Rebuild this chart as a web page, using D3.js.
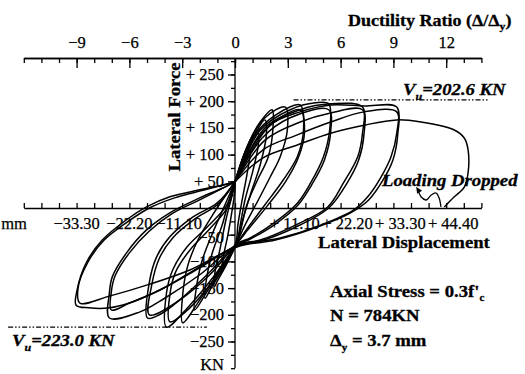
<!DOCTYPE html>
<html><head><meta charset="utf-8">
<script src="https://cdn.jsdelivr.net/npm/d3@7"></script>
<style>
body{margin:0;background:#fff}
svg{display:block}
text{font-family:"Liberation Serif","Times New Roman",serif;fill:#000}
</style>
</head><body><svg id="c" width="525" height="374"></svg>
<script>
// ---------- data ----------
const ductilityTicks = [-9,-6,-3,0,3,6,9,12];
const ductilityMinor = d3.range(-12,15);
const dispLabels = [-33.30,-22.20,-11.10,11.10,22.20,33.30,44.40];
const forceLabels = [250,200,150,100,50,-50,-100,-150,-200,-250];
const forceMinor = d3.range(-300,300,25);
const VuPos = 202.6, VuNeg = -223.0;
const deltaY = 3.7; // mm

// hysteresis cycles: [displacement mm, force kN]
const cycle1 = [[0,49],[1.5,81],[3.2,109],[2.5,62],[1.5,15],[0.6,-32],[0.2,-64],[-1.5,-94],[-2.7,-120],[-2.5,-94],[-1.5,-51],[-0.6,-4],[0,34],[0,49]];
const cycle2 = [[0,49],[2.1,94],[3.8,127],[4.9,140],[4.9,118],[3.8,71],[2.1,15],[1.1,-32],[0.4,-64],[-1.5,-101],[-3.6,-135],[-4.4,-148],[-4.2,-120],[-3.2,-79],[-1.9,-22],[-0.6,24],[0,49]];
const cycle3 = [[0,49],[2.1,105],[4.4,142],[6.3,165],[6.6,137],[5.3,81],[3.2,24],[1.5,-26],[0.4,-64],[-2.1,-107],[-4.9,-148],[-6.3,-169],[-6.1,-139],[-4.9,-88],[-2.7,-32],[-1.1,19],[0,49]];
const cycle4 = [[0,49],[2.7,118],[5.3,161],[7.8,184],[8.0,152],[7.0,96],[4.7,52],[2.5,6],[0.6,-60],[-2.1,-107],[-5.9,-157],[-8.5,-191],[-8.2,-154],[-7.0,-101],[-4.9,-51],[-2.1,6],[0,49]];
const cycle5 = [[0,49],[3.2,127],[6.3,169],[10.6,189],[11.0,146],[9.5,96],[7.4,58],[4.9,15],[2.1,-32],[0.4,-64],[-3.2,-116],[-7.4,-172],[-11.0,-215],[-11.0,-163],[-9.9,-107],[-7.8,-60],[-4.7,-13],[-1.5,30],[0,49]];
const cycle6 = [[0,49],[4.2,137],[8.5,174],[13.7,193],[14.4,146],[13.1,96],[10.1,52],[6.3,6],[2.7,-37],[0.4,-66],[-4.2,-125],[-9.5,-182],[-14.4,-223],[-14.4,-159],[-13.1,-116],[-10.1,-73],[-5.9,-36],[-1.7,6],[0,49]];
const cycle6b = [[0,49],[4.9,131],[9.5,169],[13.7,184],[14.6,142],[13.3,94],[10.6,49],[6.8,4],[2.7,-41],[0.4,-67],[-4.2,-131],[-9.5,-187],[-13.7,-213],[-13.7,-163],[-12.5,-120],[-9.5,-79],[-5.3,-39],[-1.5,2],[0,49]];
const cycle7 = [[0,49],[5.3,146],[11.6,184],[16.9,197],[19.7,195],[19.9,146],[18.6,96],[15.9,47],[13.1,9],[8.5,-26],[3.2,-56],[0.4,-67],[-5.3,-120],[-11.6,-172],[-15.9,-200],[-18.4,-206],[-18.0,-139],[-16.5,-92],[-13.7,-54],[-8.9,-17],[-3.8,9],[0,49]];
const cycle7b = [[0,49],[5.7,131],[11.6,169],[19.7,184],[20.1,142],[18.8,90],[16.1,43],[13.3,6],[8.5,-30],[3.2,-58],[0.4,-69],[-5.3,-125],[-11.6,-172],[-18.0,-200],[-17.5,-144],[-15.9,-94],[-13.1,-56],[-8.5,-21],[-3.6,7],[0,49]];
const cycle8 = [[0,49],[6.3,150],[13.7,184],[20.1,195],[26.8,189],[26.8,140],[25.8,96],[22.8,47],[19.5,2],[12.7,-32],[5.3,-60],[0.4,-69],[-7.4,-125],[-14.8,-169],[-20.1,-195],[-26.4,-206],[-26.4,-159],[-25.8,-129],[-22.8,-84],[-18.6,-41],[-13.7,-9],[-7.4,19],[-2.7,37],[0,49]];
const cycle8b = [[0,49],[6.3,127],[13.7,161],[20.1,178],[26.8,184],[27.1,137],[26.0,90],[23.3,43],[19.7,0],[12.7,-36],[5.3,-62],[0.4,-71],[-8.5,-116],[-15.9,-154],[-22.2,-178],[-26.0,-191],[-26.0,-157],[-25.2,-127],[-22.2,-84],[-18.0,-43],[-13.3,-11],[-7.0,17],[0,49]];
const cycle9 = [[0,49],[7.4,155],[13.7,180],[20.1,193],[27.1,191],[34.0,189],[34.0,140],[32.8,96],[30.7,58],[27.9,21],[24.9,-4],[18.0,-32],[9.5,-56],[0.4,-71],[-7.4,-112],[-15.9,-154],[-22.2,-178],[-26.4,-187],[-30.7,-187],[-33.4,-182],[-33.2,-154],[-31.3,-103],[-27.9,-60],[-22.8,-22],[-18.6,2],[-13.7,21],[-7.4,34],[-0.4,47]];
const cycle9b = [[0,49],[5.9,109],[13.1,137],[20.1,161],[27.1,180],[34.0,180],[34.2,137],[33.2,90],[31.1,52],[28.1,15],[24.3,-9],[16.9,-37],[8.5,-60],[0.4,-73],[-9.5,-116],[-18.4,-144],[-26.4,-165],[-32.6,-178],[-33.0,-150],[-30.9,-101],[-27.5,-60],[-22.6,-26],[-18.0,0],[-12.7,19],[-6.3,34],[0,49]];
const finalRun = [[0,49],[5.9,94],[13.1,118],[20.1,140],[27.1,155],[34.0,165],[39.1,161],[46.1,146],[48.2,131],[49.0,109],[49.0,66],[48.2,39],[46.1,21],[44.0,2]];
const droppedArrow = [[38.5,34],[39.1,21],[40.2,15],[41.2,24],[42.3,28],[42.9,19],[43.3,2]];

const cycles = [cycle1,cycle2,cycle3,cycle4,cycle5,cycle6,cycle6b,cycle7,cycle7b,cycle8,cycle8b,cycle9,cycle9b,finalRun];

// ---------- scales ----------
const svg = d3.select("#c");
const x  = d3.scaleLinear().domain([-12*deltaY,14*deltaY]).range([23.8,481.4]);
const xd = d3.scaleLinear().domain([-12,14]).range([23.8,481.4]);
const y  = d3.scaleLinear().domain([-300,300]).range([368.2,47.8]);
const topY = 58;
const fmtSigned = d => (d<0 ? "\u2212"+Math.abs(d) : String(d));
const TICKFS = 16.5;

// ---------- top (ductility) axis ----------
const gTop = svg.append("g").attr("transform",`translate(0,${topY})`);
gTop.call(d3.axisTop(xd).tickValues(ductilityMinor).tickSizeInner(-5).tickSizeOuter(0).tickFormat(""));
gTop.call(g=>g.append("g").call(d3.axisTop(xd).tickValues(ductilityTicks).tickSizeInner(-10).tickSizeOuter(0).tickPadding(10).tickFormat(fmtSigned)));
gTop.selectAll(".domain").attr("stroke-width",1.5);
gTop.selectAll("line").attr("stroke-width",1.3);
gTop.selectAll("text").attr("font-size",TICKFS).attr("font-family","Liberation Serif").attr("fill","#000")
  .attr("stroke","#000").attr("stroke-width",0.25);

// ---------- bottom (displacement) axis ----------
const gBot = svg.append("g").attr("transform",`translate(0,${y(0)})`);
gBot.call(d3.axisBottom(x).tickValues(ductilityMinor.map(d=>d*deltaY)).tickSizeInner(-5).tickSizeOuter(0).tickFormat(""));
gBot.selectAll(".domain").attr("stroke-width",1.5);
gBot.selectAll("line").attr("stroke-width",1.3);
gBot.selectAll(".lab").data(dispLabels).join("text")
  .attr("x",d=>d<0?x(d)-(d>-12?3:0):x(d)+7).attr("y",21).attr("text-anchor","middle")
  .attr("font-size",TICKFS).attr("stroke","#000").attr("stroke-width",0.25)
  .text(d=>(d<0?"\u2212"+Math.abs(d).toFixed(2):"+ "+d.toFixed(2)));
gBot.append("text").attr("x",14).attr("y",21).attr("font-size",TICKFS).attr("stroke","#000").attr("stroke-width",0.25).text("mm");

// ---------- y (force) axis ----------
const gY = svg.append("g").attr("transform",`translate(${x(0)},0)`);
gY.call(d3.axisLeft(y).tickValues(forceMinor).tickSizeInner(4).tickSizeOuter(0).tickFormat(""));
gY.call(g=>g.append("g").call(d3.axisLeft(y).tickValues(forceLabels).tickSizeInner(7).tickSizeOuter(0).tickFormat("")));
gY.selectAll(".domain").remove();
gY.append("line").attr("x1",0).attr("x2",0).attr("y1",topY).attr("y2",y(-300)).attr("stroke","#000").attr("stroke-width",1.5);
gY.selectAll("line").attr("stroke-width",1.3);
gY.selectAll(".lab").data(forceLabels).join("text")
  .attr("x",-11).attr("y",d=>y(d)+(d===-50?8:5.5)).attr("text-anchor","end").attr("font-size",TICKFS)
  .attr("stroke","#000").attr("stroke-width",0.25)
  .text(d=>d>0?"+ "+d:fmtSigned(d));
gY.append("text").attr("x",-11).attr("y",y(-300)+2).attr("text-anchor","end").attr("font-size",TICKFS)
  .attr("stroke","#000").attr("stroke-width",0.25).text("KN");

// ---------- V_u lines ----------
svg.append("line").attr("x1",x(12.3)).attr("x2",x(53.5)).attr("y1",y(VuPos)).attr("y2",y(VuPos))
  .attr("stroke","#000").attr("stroke-width",1.3).attr("stroke-dasharray","5,2,1.5,2,1.5,2");
svg.append("line").attr("x1",x(-47.7)).attr("x2",x(-5.9)).attr("y1",y(VuNeg)).attr("y2",y(VuNeg))
  .attr("stroke","#000").attr("stroke-width",1.3).attr("stroke-dasharray","5,2,1.5,2,1.5,2");

// ---------- hysteresis curves ----------
const line = d3.line().x(d=>x(d[0])).y(d=>y(d[1])).curve(d3.curveCatmullRom.alpha(0.5));
svg.append("g").selectAll("path").data(cycles).join("path")
  .attr("d",line).attr("fill","none").attr("stroke","#000").attr("stroke-width",1.5).attr("stroke-linejoin","round");

// loading dropped arrow
svg.append("path").attr("d",line(droppedArrow)).attr("fill","none").attr("stroke","#000").attr("stroke-width",1.3);
const a0 = droppedArrow[0];
svg.append("path")
  .attr("d",`M${x(a0[0])-2},${y(a0[1])-3}L${x(a0[0])+4},${y(a0[1])+1}L${x(a0[0])-1},${y(a0[1])+4}Z`)
  .attr("fill","#000");

// ---------- titles & annotations ----------
function boldText(px,py,sx,opts={}){
  const t = svg.append("text")
    .attr("transform",`translate(${px},${py}) ${opts.rot?`rotate(${opts.rot})`:""} scale(${sx},1)`)
    .attr("font-size",opts.fs||17).attr("font-weight","bold")
    .attr("stroke","#000").attr("stroke-width",0.3);
  if(opts.italic) t.attr("font-style","italic");
  if(opts.anchor) t.attr("text-anchor",opts.anchor);
  return t;
}
const t1 = boldText(348,26,1.06);
t1.append("tspan").text("Ductility Ratio  (Δ/Δ");
t1.append("tspan").attr("font-size",11).attr("dy",4).text("y");
t1.append("tspan").attr("dy",-4).text(")");

boldText(180,117,1.1,{rot:-90,anchor:"middle"}).text("Lateral Force");
boldText(318,248,1.1).text("Lateral Displacement");

function vu(xp,yp,val){
  const t = boldText(xp,yp,1.1,{italic:true});
  t.append("tspan").text("V");
  t.append("tspan").attr("font-size",11).attr("dy",5).text("u");
  t.append("tspan").attr("dy",-5).text("="+val.toFixed(1)+" KN");
}
vu(403,95,VuPos);
vu(12,346,Math.abs(VuNeg));

boldText(382,186,1.1,{italic:true}).text("Loading Dropped");

const a1 = boldText(330,297,1.1);
a1.append("tspan").text("Axial Stress = 0.3f'");
a1.append("tspan").attr("font-size",10).attr("dy",4).text("c");
boldText(330,321,1.1).text("N = 784KN");
const a3 = boldText(330,346,1.1);
a3.append("tspan").text("Δ");
a3.append("tspan").attr("font-size",10).attr("dy",5).text("y");
a3.append("tspan").attr("dy",-5).text(" = "+deltaY+" mm");
</script>
</body></html>
